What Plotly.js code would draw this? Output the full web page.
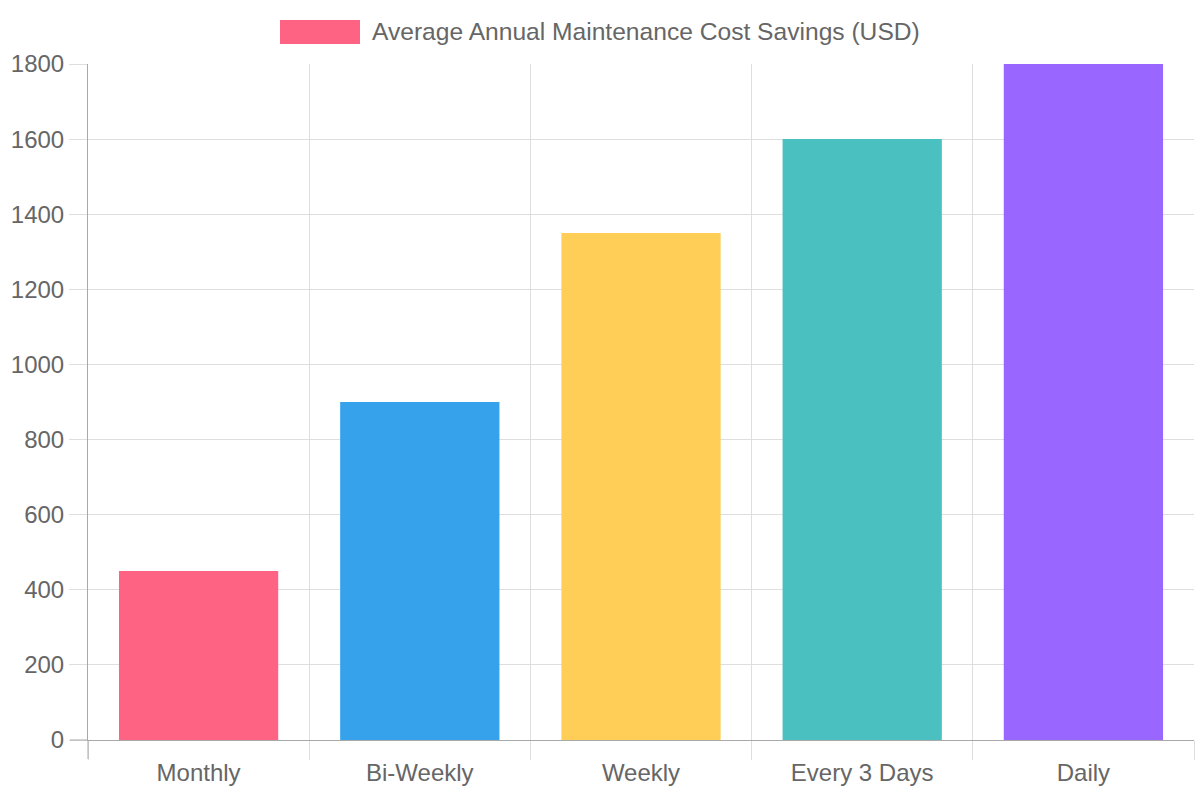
<!DOCTYPE html>
<html>
<head>
<meta charset="utf-8">
<script src="https://cdn.plot.ly/plotly-3.0.1.min.js"></script>
<style>
html,body{margin:0;padding:0;background:#fff;}
#chart{width:1200px;height:800px;}
</style>
</head>
<body>
<div id="chart"></div>
<script>
const categories = ["Monthly", "Bi-Weekly", "Weekly", "Every 3 Days", "Daily"];
const savings = [450, 900, 1350, 1600, 1800];
const barColors = ["#FF6384", "#36A2EB", "#FFCE56", "#4BC0C0", "#9966FF"];
const seriesName = "Average Annual Maintenance Cost Savings (USD)";
const yTicks = [0, 200, 400, 600, 800, 1000, 1200, 1400, 1600, 1800];

const W = 1200, H = 800;
const m = {l: 88, r: 6, t: 64, b: 60};
const pw = W - m.l - m.r, ph = H - m.t - m.b;
const px = x => (x - m.l) / pw;
const py = y => (H - m.b - y) / ph;

const font = {family: "Liberation Sans, Arial, sans-serif", size: 24, color: "#666666"};
const legendFont = {family: "Liberation Sans, Arial, sans-serif", size: 24.6, color: "#666666"};
const gridColor = "#dedede";
const axisColor = "#a8a8a8";

const trace = {
  type: "bar",
  x: categories,
  y: savings,
  name: seriesName,
  width: 0.72,
  marker: {color: barColors, line: {width: 0}},
  showlegend: false,
  hoverinfo: "x+y"
};

const layout = {
  width: W, height: H,
  margin: m,
  paper_bgcolor: "#ffffff",
  plot_bgcolor: "#ffffff",
  font: font,
  showlegend: false,
  xaxis: {
    type: "category",
    tickson: "boundaries",
    showgrid: true,
    gridcolor: gridColor,
    gridwidth: 1,
    ticks: "outside",
    ticklen: 19,
    tickcolor: gridColor,
    ticklabelstandoff: 11,
    showline: true,
    linecolor: axisColor,
    linewidth: 1,
    tickfont: font,
    fixedrange: true
  },
  yaxis: {
    range: [0, 1800],
    tickvals: yTicks,
    ticktext: yTicks.map(String),
    showgrid: true,
    gridcolor: gridColor,
    gridwidth: 1,
    zeroline: false,
    ticks: "outside",
    ticklen: 18,
    tickcolor: gridColor,
    showline: true,
    linecolor: axisColor,
    linewidth: 1,
    tickfont: font,
    fixedrange: true
  },
  shapes: [
    {type: "rect", xref: "paper", yref: "paper",
     x0: px(280), x1: px(360), y0: py(44), y1: py(20),
     fillcolor: barColors[0], line: {width: 0}},
    {type: "line", xref: "paper", yref: "paper",
     x0: 0, x1: 0, y0: py(759), y1: 0,
     line: {color: axisColor, width: 1}},
    {type: "line", xref: "paper", yref: "paper",
     x0: px(70), x1: 0, y0: 0, y1: 0,
     line: {color: axisColor, width: 1}}
  ],
  annotations: [
    {xref: "paper", yref: "paper", x: px(371), y: py(32),
     xanchor: "left", yanchor: "middle", showarrow: false, borderpad: 0,
     text: seriesName, font: legendFont}
  ]
};

Plotly.newPlot("chart", [trace], layout, {displayModeBar: false, staticPlot: true});
</script>
</body>
</html>
